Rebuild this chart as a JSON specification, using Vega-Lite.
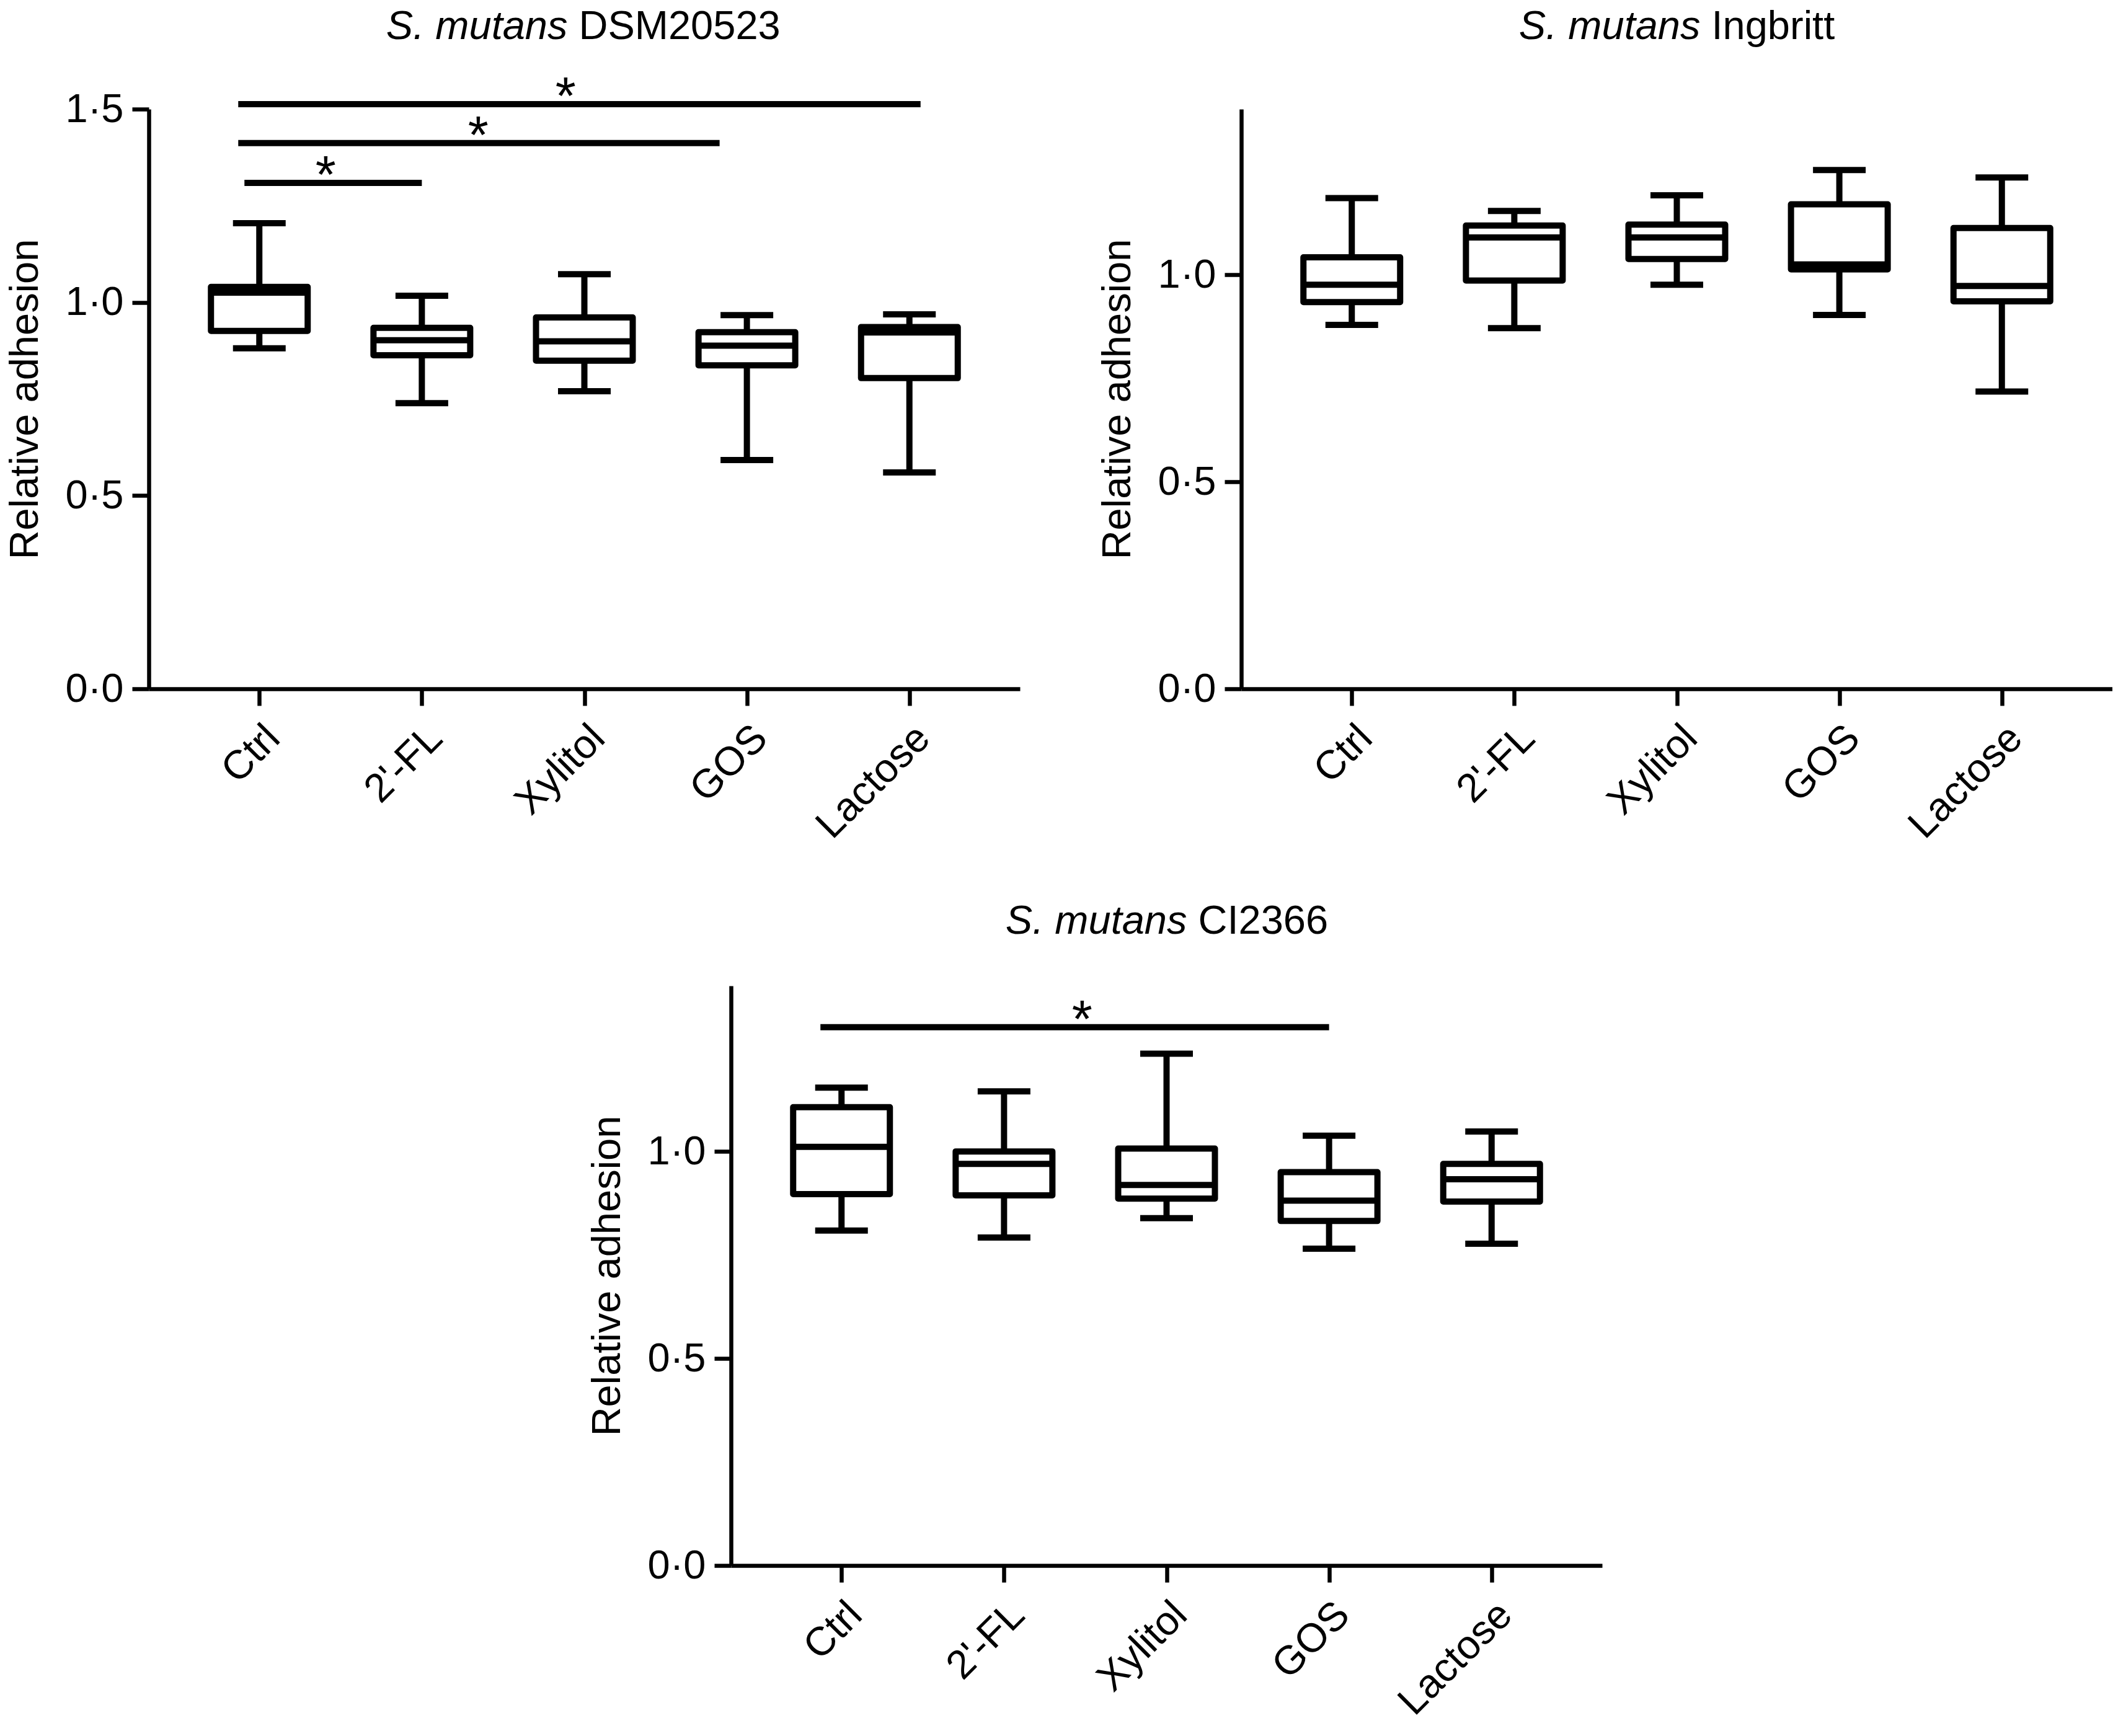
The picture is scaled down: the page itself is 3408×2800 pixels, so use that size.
{
  "$schema": "https://vega.github.io/schema/vega-lite/v6.json",
  "background": "white",
  "padding": {"left": 8, "top": 11, "right": 0, "bottom": 0},
  "config": {
    "font": "Liberation Sans",
    "view": {"stroke": null},
    "axis": {
      "domainColor": "black", "domainWidth": 6.5, "tickColor": "black", "tickWidth": 6.5, "tickSize": 27,
      "labelFontSize": 65, "labelColor": "black", "labelFont": "Liberation Sans",
      "titleFontSize": 65, "titleFontWeight": "normal", "titleColor": "black", "titleFont": "Liberation Sans",
      "grid": false
    },
    "axisY": {"labelPadding": 14, "titlePadding": 31},
    "axisX": {"labelAngle": -45, "labelPadding": 20, "labelOverlap": false, "labelLimit": 0}
  },
  "datasets": {
    "dsm": [
      {"group": "Ctrl", "min": 0.881, "q1": 0.926, "median": 1.025, "q3": 1.04, "max": 1.205},
      {"group": "2'-FL", "min": 0.739, "q1": 0.863, "median": 0.902, "q3": 0.934, "max": 1.017},
      {"group": "Xylitol", "min": 0.77, "q1": 0.849, "median": 0.899, "q3": 0.961, "max": 1.073},
      {"group": "GOS", "min": 0.592, "q1": 0.837, "median": 0.888, "q3": 0.923, "max": 0.967},
      {"group": "Lactose", "min": 0.56, "q1": 0.804, "median": 0.922, "q3": 0.936, "max": 0.969}
    ],
    "ing": [
      {"group": "Ctrl", "min": 0.879, "q1": 0.934, "median": 0.976, "q3": 1.042, "max": 1.185},
      {"group": "2'-FL", "min": 0.871, "q1": 0.986, "median": 1.09, "q3": 1.119, "max": 1.154},
      {"group": "Xylitol", "min": 0.976, "q1": 1.038, "median": 1.09, "q3": 1.121, "max": 1.192},
      {"group": "GOS", "min": 0.903, "q1": 1.013, "median": 1.025, "q3": 1.17, "max": 1.253},
      {"group": "Lactose", "min": 0.718, "q1": 0.936, "median": 0.973, "q3": 1.113, "max": 1.235}
    ],
    "ci": [
      {"group": "Ctrl", "min": 0.809, "q1": 0.897, "median": 1.011, "q3": 1.107, "max": 1.154},
      {"group": "2'-FL", "min": 0.792, "q1": 0.894, "median": 0.97, "q3": 1.0, "max": 1.145},
      {"group": "Xylitol", "min": 0.839, "q1": 0.886, "median": 0.919, "q3": 1.007, "max": 1.236},
      {"group": "GOS", "min": 0.765, "q1": 0.832, "median": 0.881, "q3": 0.95, "max": 1.038},
      {"group": "Lactose", "min": 0.777, "q1": 0.879, "median": 0.933, "q3": 0.97, "max": 1.048}
    ],
    "sig_dsm": [
      {"from": "Ctrl", "to": "Lactose", "y": 1.513, "star": "*"},
      {"from": "Ctrl", "to": "GOS", "y": 1.412, "star": "*"},
      {"from": "Ctrl", "to": "2'-FL", "y": 1.309, "star": "*"}
    ],
    "sig_ci": [
      {"from": "Ctrl", "to": "GOS", "y": 1.3, "star": "*"}
    ],
    "titles": [
      {"panel": "dsm", "species": "S. mutans", "strain": "DSM20523"},
      {"panel": "ing", "species": "S. mutans", "strain": "Ingbritt"},
      {"panel": "ci", "species": "S. mutans", "strain": "CI2366"}
    ]
  },
  "spacing": 89,
  "vconcat": [
    {
      "spacing": 125,
      "hconcat": [
        {
          "width": 1405, "height": 935,
          "data": {"name": "dsm"},
          "layer": [
            {"mark": {"type": "rule", "strokeWidth": 10, "color": "black"},
             "encoding": {
               "x": {"field": "group", "type": "nominal", "scale": {"type": "point", "padding": 0.68, "domain": ["Ctrl", "2'-FL", "Xylitol", "GOS", "Lactose"]}, "axis": {"title": null}},
               "y": {"field": "min", "type": "quantitative", "scale": {"domain": [0, 1.5], "nice": false}, "axis": {"values": [0, 0.5, 1, 1.5], "labelExpr": "replace(format(datum.value, '.1f'), '.', '·')", "title": "Relative adhesion"}},
               "y2": {"field": "max"}}},
            {"mark": {"type": "bar", "width": 156, "fill": "white", "stroke": "black", "strokeWidth": 10, "strokeJoin": "round"},
             "encoding": {"x": {"field": "group", "type": "nominal"}, "y": {"field": "q1", "type": "quantitative"}, "y2": {"field": "q3"}}},
            {"mark": {"type": "tick", "thickness": 10, "size": 164, "color": "black", "opacity": 1},
             "encoding": {"x": {"field": "group", "type": "nominal"}, "y": {"field": "median", "type": "quantitative"}}},
            {"mark": {"type": "tick", "thickness": 10, "size": 85, "color": "black", "opacity": 1},
             "encoding": {"x": {"field": "group", "type": "nominal"}, "y": {"field": "min", "type": "quantitative"}}},
            {"mark": {"type": "tick", "thickness": 10, "size": 85, "color": "black", "opacity": 1},
             "encoding": {"x": {"field": "group", "type": "nominal"}, "y": {"field": "max", "type": "quantitative"}}},
            {"data": {"name": "sig_dsm"}, "transform": [{"filter": {"field": "to", "equal": "Lactose"}}],
             "mark": {"type": "rule", "strokeWidth": 10, "color": "black", "xOffset": -34, "x2Offset": 18},
             "encoding": {"x": {"field": "from", "type": "nominal"}, "x2": {"field": "to"}, "y": {"field": "y", "type": "quantitative"}}},
            {"data": {"name": "sig_dsm"}, "transform": [{"filter": {"field": "to", "equal": "GOS"}}],
             "mark": {"type": "rule", "strokeWidth": 10, "color": "black", "xOffset": -34, "x2Offset": -44},
             "encoding": {"x": {"field": "from", "type": "nominal"}, "x2": {"field": "to"}, "y": {"field": "y", "type": "quantitative"}}},
            {"data": {"name": "sig_dsm"}, "transform": [{"filter": {"field": "to", "equal": "2'-FL"}}],
             "mark": {"type": "rule", "strokeWidth": 10, "color": "black", "xOffset": -24, "x2Offset": 0},
             "encoding": {"x": {"field": "from", "type": "nominal"}, "x2": {"field": "to"}, "y": {"field": "y", "type": "quantitative"}}},
            {"data": {"name": "sig_dsm"}, "transform": [{"filter": {"field": "to", "equal": "Lactose"}}],
             "mark": {"type": "text", "fontSize": 85, "dx": 494, "dy": 16, "baseline": "alphabetic", "align": "center", "color": "black"},
             "encoding": {"x": {"field": "from", "type": "nominal"}, "y": {"field": "y", "type": "quantitative"}, "text": {"field": "star"}}},
            {"data": {"name": "sig_dsm"}, "transform": [{"filter": {"field": "to", "equal": "GOS"}}],
             "mark": {"type": "text", "fontSize": 85, "dx": 353, "dy": 16, "baseline": "alphabetic", "align": "center", "color": "black"},
             "encoding": {"x": {"field": "from", "type": "nominal"}, "y": {"field": "y", "type": "quantitative"}, "text": {"field": "star"}}},
            {"data": {"name": "sig_dsm"}, "transform": [{"filter": {"field": "to", "equal": "2'-FL"}}],
             "mark": {"type": "text", "fontSize": 85, "dx": 107, "dy": 16, "baseline": "alphabetic", "align": "center", "color": "black"},
             "encoding": {"x": {"field": "from", "type": "nominal"}, "y": {"field": "y", "type": "quantitative"}, "text": {"field": "star"}}},
            {"data": {"name": "titles"}, "transform": [{"filter": {"field": "panel", "equal": "dsm"}}],
             "mark": {"type": "text", "fontSize": 65, "fontStyle": "italic", "align": "right", "dx": -27, "baseline": "middle", "color": "black"},
             "encoding": {"x": {"datum": "Xylitol"}, "y": {"datum": 1.713}, "text": {"field": "species"}}},
            {"data": {"name": "titles"}, "transform": [{"filter": {"field": "panel", "equal": "dsm"}}],
             "mark": {"type": "text", "fontSize": 65, "align": "left", "dx": -9, "baseline": "middle", "color": "black"},
             "encoding": {"x": {"datum": "Xylitol"}, "y": {"datum": 1.713}, "text": {"field": "strain"}}}
          ]
        },
        {
          "width": 1405, "height": 935,
          "data": {"name": "ing"},
          "layer": [
            {"mark": {"type": "rule", "strokeWidth": 10, "color": "black"},
             "encoding": {
               "x": {"field": "group", "type": "nominal", "scale": {"type": "point", "padding": 0.68, "domain": ["Ctrl", "2'-FL", "Xylitol", "GOS", "Lactose"]}, "axis": {"title": null}},
               "y": {"field": "min", "type": "quantitative", "scale": {"domain": [0, 1.4], "nice": false}, "axis": {"values": [0, 0.5, 1], "labelExpr": "replace(format(datum.value, '.1f'), '.', '·')", "title": "Relative adhesion"}},
               "y2": {"field": "max"}}},
            {"mark": {"type": "bar", "width": 156, "fill": "white", "stroke": "black", "strokeWidth": 10, "strokeJoin": "round"},
             "encoding": {"x": {"field": "group", "type": "nominal"}, "y": {"field": "q1", "type": "quantitative"}, "y2": {"field": "q3"}}},
            {"mark": {"type": "tick", "thickness": 10, "size": 164, "color": "black", "opacity": 1},
             "encoding": {"x": {"field": "group", "type": "nominal"}, "y": {"field": "median", "type": "quantitative"}}},
            {"mark": {"type": "tick", "thickness": 10, "size": 85, "color": "black", "opacity": 1},
             "encoding": {"x": {"field": "group", "type": "nominal"}, "y": {"field": "min", "type": "quantitative"}}},
            {"mark": {"type": "tick", "thickness": 10, "size": 85, "color": "black", "opacity": 1},
             "encoding": {"x": {"field": "group", "type": "nominal"}, "y": {"field": "max", "type": "quantitative"}}},
            {"data": {"name": "titles"}, "transform": [{"filter": {"field": "panel", "equal": "ing"}}],
             "mark": {"type": "text", "fontSize": 65, "fontStyle": "italic", "align": "right", "dx": 38, "baseline": "middle", "color": "black"},
             "encoding": {"x": {"datum": "Xylitol"}, "y": {"datum": 1.599}, "text": {"field": "species"}}},
            {"data": {"name": "titles"}, "transform": [{"filter": {"field": "panel", "equal": "ing"}}],
             "mark": {"type": "text", "fontSize": 65, "align": "left", "dx": 56, "baseline": "middle", "color": "black"},
             "encoding": {"x": {"datum": "Xylitol"}, "y": {"datum": 1.599}, "text": {"field": "strain"}}}
          ]
        }
      ]
    },
    {
      "spacing": 0,
      "hconcat": [
        {"width": 707, "height": 10, "data": {"values": []}, "mark": "point"},
        {
          "width": 1405, "height": 935,
          "data": {"name": "ci"},
          "layer": [
            {"mark": {"type": "rule", "strokeWidth": 10, "color": "black"},
             "encoding": {
               "x": {"field": "group", "type": "nominal", "scale": {"type": "point", "padding": 0.68, "domain": ["Ctrl", "2'-FL", "Xylitol", "GOS", "Lactose"]}, "axis": {"title": null}},
               "y": {"field": "min", "type": "quantitative", "scale": {"domain": [0, 1.4], "nice": false}, "axis": {"values": [0, 0.5, 1], "labelExpr": "replace(format(datum.value, '.1f'), '.', '·')", "title": "Relative adhesion"}},
               "y2": {"field": "max"}}},
            {"mark": {"type": "bar", "width": 156, "fill": "white", "stroke": "black", "strokeWidth": 10, "strokeJoin": "round"},
             "encoding": {"x": {"field": "group", "type": "nominal"}, "y": {"field": "q1", "type": "quantitative"}, "y2": {"field": "q3"}}},
            {"mark": {"type": "tick", "thickness": 10, "size": 164, "color": "black", "opacity": 1},
             "encoding": {"x": {"field": "group", "type": "nominal"}, "y": {"field": "median", "type": "quantitative"}}},
            {"mark": {"type": "tick", "thickness": 10, "size": 85, "color": "black", "opacity": 1},
             "encoding": {"x": {"field": "group", "type": "nominal"}, "y": {"field": "min", "type": "quantitative"}}},
            {"mark": {"type": "tick", "thickness": 10, "size": 85, "color": "black", "opacity": 1},
             "encoding": {"x": {"field": "group", "type": "nominal"}, "y": {"field": "max", "type": "quantitative"}}},
            {"data": {"name": "sig_ci"},
             "mark": {"type": "rule", "strokeWidth": 10, "color": "black", "xOffset": -34, "x2Offset": 0},
             "encoding": {"x": {"field": "from", "type": "nominal"}, "x2": {"field": "to"}, "y": {"field": "y", "type": "quantitative"}}},
            {"data": {"name": "sig_ci"},
             "mark": {"type": "text", "fontSize": 85, "dx": 388, "dy": 16, "baseline": "alphabetic", "align": "center", "color": "black"},
             "encoding": {"x": {"field": "from", "type": "nominal"}, "y": {"field": "y", "type": "quantitative"}, "text": {"field": "star"}}},
            {"data": {"name": "titles"}, "transform": [{"filter": {"field": "panel", "equal": "ci"}}],
             "mark": {"type": "text", "fontSize": 65, "fontStyle": "italic", "align": "right", "dx": 33, "baseline": "middle", "color": "black"},
             "encoding": {"x": {"datum": "Xylitol"}, "y": {"datum": 1.555}, "text": {"field": "species"}}},
            {"data": {"name": "titles"}, "transform": [{"filter": {"field": "panel", "equal": "ci"}}],
             "mark": {"type": "text", "fontSize": 65, "align": "left", "dx": 51, "baseline": "middle", "color": "black"},
             "encoding": {"x": {"datum": "Xylitol"}, "y": {"datum": 1.555}, "text": {"field": "strain"}}}
          ]
        }
      ]
    }
  ]
}
